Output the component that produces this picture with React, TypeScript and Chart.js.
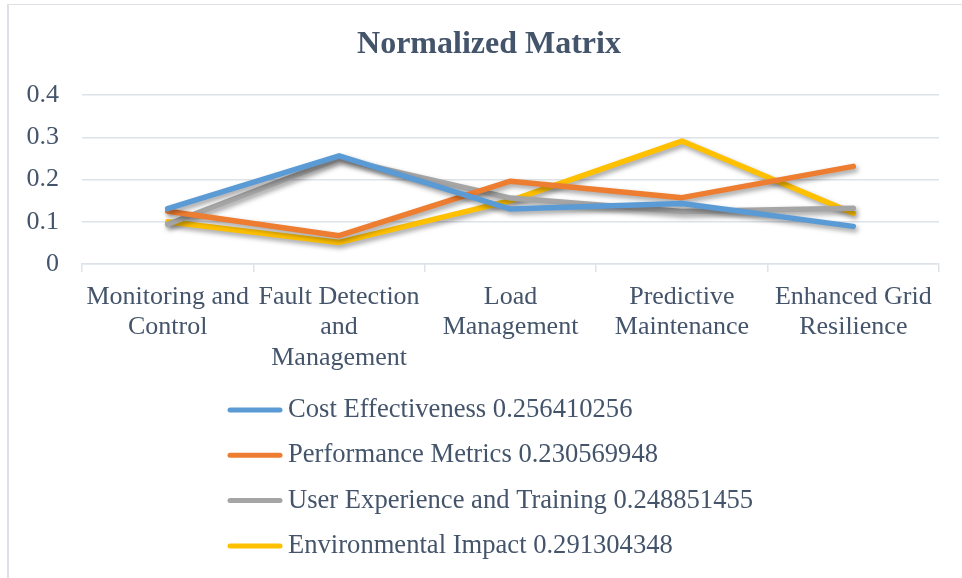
import React, { useEffect, useRef } from "react";
import { Chart, registerables } from "chart.js";

Chart.register(...registerables);

const titleText = "Normalized Matrix";
const categories: string[][] = [
  ["Monitoring and", "Control"],
  ["Fault Detection", "and", "Management"],
  ["Load", "Management"],
  ["Predictive", "Maintenance"],
  ["Enhanced Grid", "Resilience"],
];
const seriesNames = [
  "Cost Effectiveness 0.256410256",
  "Performance Metrics 0.230569948",
  "User Experience and Training 0.248851455",
  "Environmental Impact 0.291304348",
];
const costEffectiveness = [0.131, 0.256, 0.13, 0.143, 0.089];
const performanceMetrics = [0.125, 0.067, 0.196, 0.157, 0.231];
const userExperience = [0.094, 0.249, 0.156, 0.124, 0.132];
const environmentalImpact = [0.1, 0.051, 0.15, 0.291, 0.12];
const seriesColors = ["#5B9BD5", "#ED7D31", "#A5A5A5", "#FFC000"];
const yMin = 0;
const yMax = 0.4;
const yStep = 0.1;

const TEXT = "#44546A";
const GRID = "#DEE3EA";
const FONT = "'Liberation Serif', 'Times New Roman', serif";

const shadowPlugin = {
  id: "lineShadow",
  beforeDatasetsDraw(chart: any) {
    const ctx = chart.ctx;
    ctx.save();
    ctx.shadowColor = "rgba(0,0,0,0.38)";
    ctx.shadowBlur = 5;
    ctx.shadowOffsetX = 2;
    ctx.shadowOffsetY = 3;
  },
  afterDatasetsDraw(chart: any) {
    chart.ctx.restore();
  },
};

const titleLegendPlugin = {
  id: "titleAndLegend",
  afterDraw(chart: any) {
    const ctx = chart.ctx;
    ctx.save();
    // title
    ctx.fillStyle = TEXT;
    ctx.font = `bold 32px ${FONT}`;
    ctx.textAlign = "center";
    ctx.textBaseline = "middle";
    ctx.fillText(titleText, 489, 45);
    // legend
    const x0 = 228;
    const lineW = 54;
    const yStart = 410;
    const gap = 45.3;
    chart.data.datasets.forEach((ds: any, i: number) => {
      const y = yStart + i * gap;
      ctx.strokeStyle = ds.borderColor;
      ctx.lineWidth = 5;
      ctx.lineCap = "round";
      ctx.beginPath();
      ctx.moveTo(x0 + 2, y);
      ctx.lineTo(x0 + lineW - 2, y);
      ctx.stroke();
      ctx.fillStyle = TEXT;
      ctx.font = `26.6px ${FONT}`;
      ctx.textAlign = "left";
      ctx.textBaseline = "middle";
      ctx.fillText(ds.label, x0 + lineW + 6, y);
    });
    ctx.restore();
  },
};

export default function App() {
  const ref = useRef<HTMLCanvasElement>(null);
  useEffect(() => {
    if (!ref.current) return;
    const mk = (label: string, data: number[], color: string) => ({
      label,
      data,
      borderColor: color,
      backgroundColor: color,
      borderWidth: 5.5,
      pointRadius: 0,
      pointHoverRadius: 0,
      tension: 0,
      borderCapStyle: "round" as const,
      borderJoinStyle: "round" as const,
      fill: false,
    });
    const chart = new Chart(ref.current, {
      type: "line",
      data: {
        labels: categories,
        datasets: [
          mk(seriesNames[0], costEffectiveness, seriesColors[0]),
          mk(seriesNames[1], performanceMetrics, seriesColors[1]),
          mk(seriesNames[2], userExperience, seriesColors[2]),
          mk(seriesNames[3], environmentalImpact, seriesColors[3]),
        ],
      },
      options: {
        animation: false,
        responsive: false,
        maintainAspectRatio: false,
        layout: { padding: { left: 0, right: 23, top: 95, bottom: 0 } },
        plugins: {
          legend: { display: false },
          tooltip: { enabled: false },
          title: { display: false },
        },
        scales: {
          x: {
            offset: true,
            grid: {
              offset: true,
              drawOnChartArea: false,
              drawTicks: true,
              tickLength: 8,
              color: GRID,
              lineWidth: 1.5,
            },
            border: { display: true, color: GRID, width: 1.5 },
            ticks: {
              color: TEXT,
              font: { family: FONT, size: 26, lineHeight: 1.17 },
              maxRotation: 0,
              minRotation: 0,
              autoSkip: false,
              padding: 10,
            },
            afterFit(scale: any) {
              scale.height = 578 - 264;
            },
          },
          y: {
            min: yMin,
            max: yMax,
            grid: { color: GRID, lineWidth: 1.5, drawTicks: false },
            border: { display: false },
            ticks: {
              stepSize: yStep,
              color: TEXT,
              font: { family: FONT, size: 26 },
              padding: 23,
            },
            afterFit(scale: any) {
              scale.width = 82;
            },
          },
        },
      },
      plugins: [shadowPlugin, titleLegendPlugin],
    });
    return () => chart.destroy();
  }, []);

  return (
    <div style={{ position: "absolute", left: 0, top: 0, width: 962, height: 578, overflow: "hidden", background: "#fff" }}>
      <div
        style={{
          position: "absolute",
          left: 7,
          top: 4,
          width: 1000,
          height: 1000,
          borderLeft: "2px solid #DDE1E6",
          borderTop: "1.5px solid #DDE1E6",
        }}
      />
      <canvas ref={ref} width={962} height={578} style={{ position: "absolute", left: 0, top: 0, width: 962, height: 578 }} />
    </div>
  );
}
